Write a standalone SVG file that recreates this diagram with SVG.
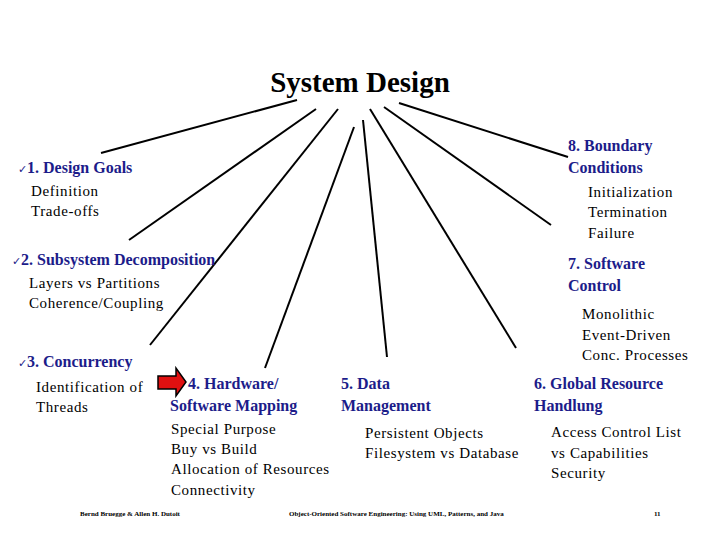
<svg xmlns="http://www.w3.org/2000/svg" width="720" height="540" viewBox="0 0 720 540">
<style>
text{font-family:'Liberation Serif','Times New Roman','DejaVu Serif',serif}
.t{font-weight:bold;fill:#1c1c8a;font-size:16px}
.b{fill:#000;font-size:15px;letter-spacing:0.6px}
.f{fill:#000;font-size:7px;font-weight:bold}
.c{font-size:11px;font-weight:normal}
line{stroke:#000;stroke-width:2}
</style>
<rect width="720" height="540" fill="#fff"/>
<text x="360" y="92" text-anchor="middle" font-weight="bold" font-size="29">System Design</text>
<g id="connectors">
<line x1="297" y1="100" x2="101" y2="153"/>
<line x1="316" y1="109" x2="129" y2="240"/>
<line x1="338" y1="109" x2="150" y2="345"/>
<line x1="354" y1="127" x2="265" y2="368"/>
<line x1="363" y1="120" x2="387" y2="357"/>
<line x1="370" y1="109" x2="516" y2="348"/>
<line x1="384" y1="107" x2="551" y2="225"/>
<line x1="399" y1="103" x2="568" y2="157"/>
</g>
<g id="n1"><text class="t" x="18" y="173"><tspan class="c">✓</tspan>1. Design Goals</text>
<text class="b" x="31" y="196">Definition</text><text class="b" x="31" y="216">Trade-offs</text></g>
<g id="n2"><text class="t" x="12" y="265"><tspan class="c">✓</tspan>2. Subsystem Decomposition</text>
<text class="b" x="29" y="288">Layers vs Partitions</text><text class="b" x="29" y="308">Coherence/Coupling</text></g>
<g id="n3"><text class="t" x="18" y="367"><tspan class="c">✓</tspan>3. Concurrency</text>
<text class="b" x="36" y="392">Identification of</text><text class="b" x="36" y="412">Threads</text></g>
<g id="arrow"><polygon points="158,376 176,376 176,368 186,382 176,396 176,389 158,389" fill="#e01010" stroke="#000" stroke-width="1.5"/></g>
<g id="n4"><text class="t" x="188" y="389">4. Hardware/</text><text class="t" x="170" y="411">Software Mapping</text>
<text class="b" x="171" y="434">Special Purpose</text><text class="b" x="171" y="454">Buy vs Build</text>
<text class="b" x="171" y="474">Allocation of Resources</text><text class="b" x="171" y="495">Connectivity</text></g>
<g id="n5"><text class="t" x="341" y="389">5. Data</text><text class="t" x="341" y="411">Management</text>
<text class="b" x="365" y="438">Persistent Objects</text><text class="b" x="365" y="458">Filesystem vs Database</text></g>
<g id="n6"><text class="t" x="534" y="389">6. Global Resource</text><text class="t" x="534" y="411">Handlung</text>
<text class="b" x="551" y="437">Access Control List</text><text class="b" x="551" y="458">vs Capabilities</text><text class="b" x="551" y="478">Security</text></g>
<g id="n7"><text class="t" x="568" y="269">7. Software</text><text class="t" x="568" y="291">Control</text>
<text class="b" x="582" y="319">Monolithic</text><text class="b" x="582" y="340">Event-Driven</text><text class="b" x="582" y="360">Conc. Processes</text></g>
<g id="n8"><text class="t" x="568" y="151">8. Boundary</text><text class="t" x="568" y="173">Conditions</text>
<text class="b" x="588" y="197">Initialization</text><text class="b" x="588" y="217">Termination</text><text class="b" x="588" y="238">Failure</text></g>
<text class="f" x="80" y="516">Bernd Bruegge &amp; Allen H. Dutoit</text>
<text class="f" x="289" y="516">Object-Oriented Software Engineering: Using UML, Patterns, and Java</text>
<text class="f" x="654" y="516">11</text>
</svg>
